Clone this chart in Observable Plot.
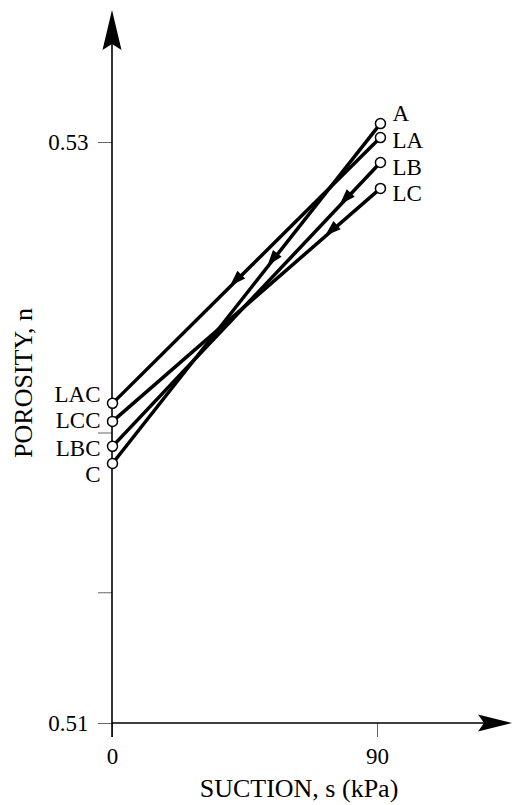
<!DOCTYPE html>
<html><head><meta charset="utf-8">
<script src="https://cdn.jsdelivr.net/npm/d3@7"></script>
<script src="https://cdn.jsdelivr.net/npm/@observablehq/plot@0.6"></script>
<style>
html,body{margin:0;padding:0;background:#fff;}
#chart svg{display:block;}
</style>
</head><body><div id="chart"></div>
<script>
// ---- data ----
const startLabels = ["A", "LA", "LB", "LC"];
const startSuction = [91, 91, 91, 91];
const startPorosity = [0.53065, 0.53017, 0.52931, 0.52842];
const endLabels = ["C", "LAC", "LBC", "LCC"];
const endSuction = [0, 0, 0, 0];
const endPorosity = [0.51895, 0.52102, 0.51954, 0.52040];
const yTicks = [0.51, 0.5145, 0.52, 0.53];
const yTickLabels = ["0.51", "", "", "0.53"];
const xTicks = [0, 90];
const xTickLabels = ["0", "90"];
const xTitle = "SUCTION, s (kPa)";
const yTitle = "POROSITY, n";

// ---- derived tables ----
const segs = startLabels.map((s, i) => ({
  from: s, to: endLabels[i],
  x1: startSuction[i], y1: startPorosity[i],
  x2: endSuction[i], y2: endPorosity[i]
}));
const pts = [
  ...startLabels.map((l, i) => ({label: l, x: startSuction[i], y: startPorosity[i], side: "right"})),
  ...endLabels.map((l, i) => ({label: l, x: endSuction[i], y: endPorosity[i], side: "left"}))
];

// ---- styling ----
const FONT = "Liberation Serif";
const arrowAt = [0.42, 0.56, 0.15, 0.205];   // fraction along each segment where head sits
const labelDy = {A: -10, LA: 3, LB: 5, LC: 5, C: 11, LAC: -9, LBC: 2, LCC: -1};

function arrowheads(index, scales) {
  const g = d3.create("svg:g");
  segs.forEach((s, i) => {
    const x1 = scales.x(s.x1), y1 = scales.y(s.y1), x2 = scales.x(s.x2), y2 = scales.y(s.y2);
    const t = arrowAt[i];
    const tx = x1 + (x2 - x1) * t, ty = y1 + (y2 - y1) * t;
    const a = Math.atan2(y2 - y1, x2 - x1);
    const c = Math.cos(a), sn = Math.sin(a);
    const L = 16, W = 5.5;
    const bx = tx - L * c, by = ty - L * sn;
    g.append("path")
      .attr("d", `M${tx},${ty}L${bx - W * sn},${by + W * c}L${bx + W * sn},${by - W * c}Z`)
      .attr("fill", "black");
  });
  return g.node();
}

function axesLines(index, scales) {
  const g = d3.create("svg:g");
  const x0 = scales.x(0), y0 = scales.y(0.51);
  // y axis
  g.append("line").attr("x1", x0).attr("x2", x0).attr("y1", y0 + 14).attr("y2", 44)
    .attr("stroke", "black").attr("stroke-width", 1.6);
  g.append("path").attr("d", `M${x0},10L${x0 - 9.5},50L${x0},44L${x0 + 9.5},50Z`).attr("fill", "black");
  // x axis
  g.append("line").attr("x1", x0).attr("x2", 486).attr("y1", y0).attr("y2", y0)
    .attr("stroke", "black").attr("stroke-width", 1.6);
  g.append("path").attr("d", `M512,${y0}L478,${y0 - 8.5}L484,${y0}L478,${y0 + 8.5}Z`).attr("fill", "black");
  return g.node();
}

function titles() {
  const g = d3.create("svg:g").attr("font-family", FONT).attr("font-size", 26).attr("fill", "black");
  g.append("text").attr("x", 299).attr("y", 797).attr("text-anchor", "middle").text(xTitle);
  g.append("text").attr("transform", "translate(32,383) rotate(-90)").attr("text-anchor", "middle").text(yTitle);
  return g.node();
}

const labelMarks = pts.map(p => Plot.text([p], {
  x: "x", y: "y", text: "label",
  textAnchor: p.side === "right" ? "start" : "end",
  dx: p.side === "right" ? 12 : -12,
  dy: labelDy[p.label],
  fontSize: 23, fill: "black"
}));

const chart = Plot.plot({
  width: 513,
  height: 805,
  marginLeft: 112, marginRight: 0, marginTop: 0, marginBottom: 82,
  style: {fontFamily: FONT, fontSize: "23px", background: "white", color: "black"},
  x: {domain: [0, 90], range: [112, 377], label: null},
  y: {domain: [0.51, 0.53], range: [723, 142], label: null},
  marks: [
    Plot.axisY({ticks: yTicks, tickSize: 14, tickPadding: 10, stroke: "#666", strokeWidth: 1,
      tickFormat: d => yTickLabels[yTicks.indexOf(d)], fontSize: 23, fill: "black", label: null}),
    Plot.axisX({ticks: xTicks, tickSize: 14, tickPadding: 10, stroke: "#666", strokeWidth: 1,
      tickFormat: d => xTickLabels[xTicks.indexOf(d)], fontSize: 23, fill: "black", label: null}),
    axesLines,
    Plot.link(segs, {x1: "x1", y1: "y1", x2: "x2", y2: "y2", stroke: "black", strokeWidth: 3.5}),
    arrowheads,
    Plot.dot(pts, {x: "x", y: "y", r: 5, fill: "white", stroke: "black", strokeWidth: 1.5}),
    ...labelMarks,
    titles
  ]
});
document.getElementById("chart").appendChild(chart);
</script>
</body></html>
